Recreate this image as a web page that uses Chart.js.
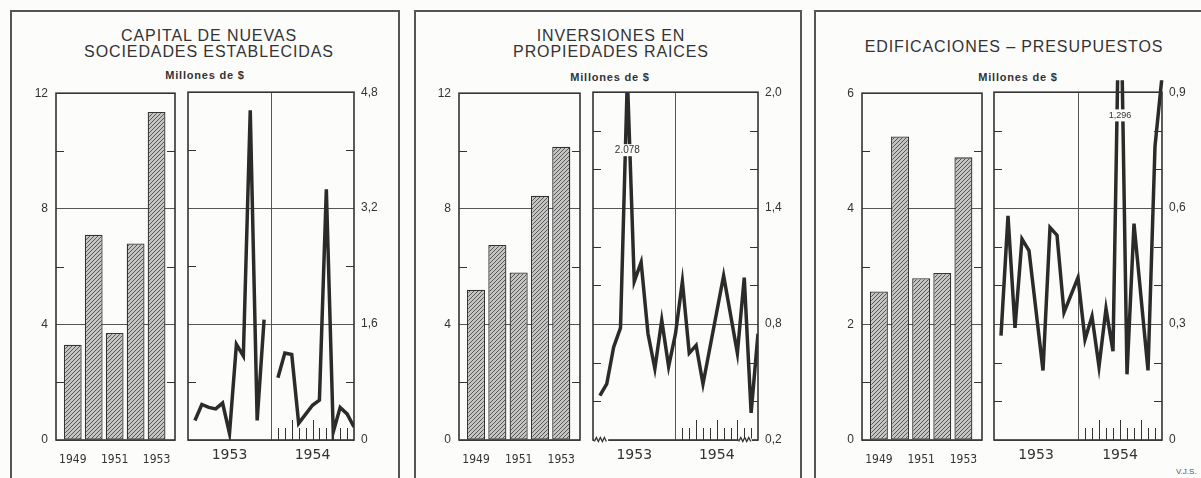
<!DOCTYPE html>
<html lang="es">
<head>
<meta charset="utf-8">
<title>Capital, inversiones y edificaciones</title>
<script src="https://cdn.jsdelivr.net/npm/chart.js@4.4.1/dist/chart.umd.min.js"></script>
<style>
  html, body { margin: 0; padding: 0; background: #fcfcfb; }
  #lienzo { position: relative; width: 1201px; height: 478px; overflow: hidden; font-family: "Liberation Sans", Arial, sans-serif; color: #333; }
  .panel { position: absolute; top: 10px; height: 480px; box-sizing: border-box; border: 2px solid #555; border-bottom: none; }
  .titulo { position: absolute; text-align: center; font-size: 16px; line-height: 16px; letter-spacing: 0.9px; }
  .unidad { position: absolute; text-align: center; font-size: 11px; font-weight: bold; letter-spacing: 0.8px; }
  .firma { position: absolute; left: 1176px; top: 467px; font-size: 8px; color: #555; }
  canvas { position: absolute; }
</style>
</head>
<body>
<div id="lienzo">
  <div class="panel" style="left:10px; width:390px"></div>
  <div class="panel" style="left:414px; width:388px"></div>
  <div class="panel" style="left:814px; width:400px"></div>

  <div class="titulo" style="left:10px; width:398px; top:28px">CAPITAL DE NUEVAS<br>SOCIEDADES ESTABLECIDAS</div>
  <div class="titulo" style="left:414px; width:394px; top:28px">INVERSIONES EN<br>PROPIEDADES RAICES</div>
  <div class="titulo" style="left:814px; width:400px; top:39px">EDIFICACIONES – PRESUPUESTOS</div>

  <div class="unidad" style="left:10px; width:390px; top:69px">Millones de $</div>
  <div class="unidad" style="left:414px; width:392px; top:71px">Millones de $</div>
  <div class="unidad" style="left:814px; width:408px; top:71px">Millones de $</div>

  <div class="firma">V.J.S.</div>
</div>

<script>
const anios = [1949, 1950, 1951, 1952, 1953];

// capital de nuevas sociedades, millones de $
const capitalAnual = [3.3, 7.1, 3.7, 6.8, 11.35];
const capital1953 = [0.27, 0.49, 0.45, 0.43, 0.51, 0.09, 1.32, 1.16, 4.55, 0.27, 1.66, null];
const capital1954 = [0.86, 1.20, 1.18, 0.23, null, 0.48, 0.55, 3.46, 0.11, 0.45, 0.36, 0.18];

// inversiones en propiedades raices
const inversionAnual = [5.2, 6.75, 5.8, 8.45, 10.15];
const inversion1953 = [0.43, 0.49, 0.68, 0.78, 2.078, 1.02, 1.12, 0.75, 0.57, 0.82, 0.58, 0.75];
const inversion1954 = [1.02, 0.65, 0.69, 0.49, null, null, 1.05, null, 0.65, 1.04, 0.34, 0.75];

// edificaciones - presupuestos
const edificacionAnual = [2.57, 5.25, 2.8, 2.89, 4.89];
const edificacion1953 = [0.27, 0.58, 0.29, 0.52, 0.49, null, 0.18, 0.55, 0.53, 0.33, null, 0.42];
const edificacion1954 = [0.26, 0.32, 0.19, 0.34, 0.23, 1.296, 0.17, 0.56, null, 0.18, 0.76, 0.94];

const ink = '#333'
const fondo = '#fcfcfb'
const fuente = { family: '"Liberation Sans", Arial, sans-serif', size: 12 }
const fuenteAnio = { family: '"Liberation Sans Narrow", "DejaVu Sans Condensed", "Liberation Sans", sans-serif', size: 12 }
const fuenteLinea = { family: '"DejaVu Sans", sans-serif', size: 14 }

function coma(v) {
  return v === 0 ? '0' : v.toFixed(1).replace('.', ',')
}

// month k of the two years sits at x = k (1..24), year break at 12
function puntos(vals, desde) {
  return vals.map((v, i) => ({ x: desde + i, y: v }))
}

function rayado() {
  const c = document.createElement('canvas')
  c.width = c.height = 4
  const g = c.getContext('2d')
  g.fillStyle = '#c4c4c2'
  g.fillRect(0, 0, 4, 4)
  g.strokeStyle = '#575757'
  g.lineWidth = 1
  g.beginPath()
  g.moveTo(0, 4); g.lineTo(4, 0)
  g.moveTo(-1, 1); g.lineTo(1, -1)
  g.moveTo(3, 5); g.lineTo(5, 3)
  g.stroke()
  return g.createPattern(c, 'repeat')
}

const marco = {
  id: 'marco',
  afterDatasetsDraw(chart, args, o) {
    const { ctx, chartArea: a, scales: { x, y } } = chart
    ctx.save()
    ctx.strokeStyle = ink
    ctx.lineWidth = 1.6
    ctx.strokeRect(a.left, a.top, a.right - a.left, a.bottom - a.top)
    ctx.lineWidth = 1
    y.ticks.forEach((t, i) => {
      if (i % o.cada === 0) return
      const py = Math.round(y.getPixelForValue(t.value)) + 0.5
      ctx.beginPath()
      ctx.moveTo(a.left, py); ctx.lineTo(a.left + 8, py)
      ctx.moveTo(a.right - 8, py); ctx.lineTo(a.right, py)
      ctx.stroke()
    })
    if (o.meses) {
      for (let m = 13; m < 24; m++) {
        const px = Math.round(x.getPixelForValue(m)) + 0.5
        ctx.beginPath()
        ctx.moveTo(px, a.bottom)
        ctx.lineTo(px, a.bottom - (m % 3 === 0 ? 20 : 12))
        ctx.stroke()
      }
    }
    (o.cortes || []).forEach(([d, h]) => {
      const x0 = x.getPixelForValue(d), x1 = x.getPixelForValue(h)
      ctx.fillStyle = fondo
      ctx.fillRect(x0, a.bottom - 1.5, x1 - x0, 3)
      ctx.beginPath()
      for (let px = x0, k = 0; px <= x1; px += 2, k++) ctx.lineTo(px, a.bottom + (k % 2 ? -2.5 : 1.5))
      ctx.lineWidth = 1.3
      ctx.stroke()
    })
    if (o.rotulo) {
      const r = o.rotulo
      const px = x.getPixelForValue(r.x), py = y.getPixelForValue(r.y)
      ctx.font = r.tam + 'px "Liberation Sans", Arial, sans-serif'
      const w = ctx.measureText(r.texto).width
      ctx.fillStyle = fondo
      ctx.fillRect(px - w / 2 - 2, py - 6, w + 4, 12)
      ctx.fillStyle = ink
      ctx.textAlign = 'center'
      ctx.textBaseline = 'middle'
      ctx.fillText(r.texto, px, py)
    }
    ctx.restore()
  }
}

function lienzo(area, izq, der) {
  const c = document.createElement('canvas')
  c.width = area[1] - area[0] + izq + der
  c.height = 352 + 10 + 28
  c.style.left = (area[0] - izq) + 'px'
  c.style.top = '78px'
  document.getElementById('lienzo').appendChild(c)
  return c
}

function barras(area, valores, tope, paso) {
  const c = lienzo(area, 44, 6)
  return new Chart(c, {
    type: 'bar',
    data: {
      datasets: [{
        data: anios.map((a, i) => ({ x: a, y: valores[i] })),
        backgroundColor: rayado(),
        borderColor: ink,
        borderWidth: 1.3,
        borderSkipped: false,
        categoryPercentage: 1,
        barPercentage: 0.85
      }]
    },
    options: {
      responsive: false,
      animation: false,
      devicePixelRatio: 1,
      layout: { padding: { top: 10, right: 6, left: 0, bottom: 0 } },
      plugins: { legend: { display: false }, tooltip: { enabled: false }, marco: { cada: 2 } },
      scales: {
        x: {
          type: 'linear', min: 1948.2, max: 1953.88, offset: false,
          grid: { display: false, offset: false }, border: { display: false },
          afterBuildTicks: s => { s.ticks = [1949, 1951, 1953].map(v => ({ value: v })) },
          afterFit: s => { s.height = 28 },
          ticks: { color: ink, font: fuenteAnio, padding: 5, autoSkip: false, maxRotation: 0, callback: v => String(v) }
        },
        y: {
          min: 0, max: tope,
          afterFit: s => { s.width = 44 },
          border: { display: false },
          ticks: { stepSize: paso, color: ink, font: fuente, padding: 8, callback: (v, i) => i % 2 ? '' : String(v) },
          grid: { drawTicks: false, color: g => g.index % 2 ? 'transparent' : '#555', lineWidth: 1 }
        }
      }
    },
    plugins: [marco]
  })
}

function lineas(area, series, ymin, ymax, paso, extra) {
  const c = lienzo(area, 6, 44)
  return new Chart(c, {
    type: 'line',
    data: {
      datasets: series.map(s => ({
        data: s, borderColor: '#2b2b2b', borderWidth: 3.5, pointRadius: 0,
        tension: 0, spanGaps: true, fill: false, clip: extra.clip
      }))
    },
    options: {
      responsive: false,
      animation: false,
      devicePixelRatio: 1,
      layout: { padding: { top: 10, right: 0, left: 6, bottom: 0 } },
      plugins: {
        legend: { display: false }, tooltip: { enabled: false },
        marco: { cada: extra.cada, meses: true, rotulo: extra.rotulo, cortes: extra.cortes }
      },
      scales: {
        x: {
          type: 'linear', min: 0, max: 24,
          border: { display: false },
          afterFit: s => { s.height = 28 },
          grid: { drawTicks: false, color: g => g.tick.value === 12 ? '#555' : 'transparent' },
          ticks: { stepSize: 6, autoSkip: false, maxRotation: 0, color: ink, font: fuenteLinea, padding: 7,
                   callback: v => v === 6 ? '1953' : v === 18 ? '1954' : '' }
        },
        y: {
          position: 'right', min: ymin, max: ymax,
          afterFit: s => { s.width = 44 },
          border: { display: false },
          ticks: { stepSize: paso, color: ink, font: fuente, padding: 7,
                   callback: (v, i) => i % extra.cada ? '' : coma(v) },
          grid: { drawTicks: false, color: g => g.index % extra.cada ? 'transparent' : '#555', lineWidth: 1 }
        }
      }
    },
    plugins: [marco]
  })
}

barras([56, 175], capitalAnual, 12, 2)
lineas([187, 354], [puntos(capital1953, 1), puntos(capital1954, 13)], 0, 4.8, 0.8, { cada: 2 })

barras([459, 580], inversionAnual, 12, 2)
lineas([592, 758], [puntos(inversion1953.concat(inversion1954), 1)], 0.2, 2.0, 0.2, {
  cada: 3,
  rotulo: { x: 5, y: 1.7, texto: '2.078', tam: 10 },
  cortes: [[0.2, 2.2], [21.2, 23.1]]
})

barras([862, 982], edificacionAnual, 6, 1)
lineas([993, 1162], [puntos(edificacion1953.concat(edificacion1954), 1)], 0, 0.9, 0.1, {
  cada: 3,
  rotulo: { x: 18, y: 0.84, texto: '1,296', tam: 9 },
  clip: { left: 2, right: 4, top: 12, bottom: 2 }
})
</script>
</body>
</html>
